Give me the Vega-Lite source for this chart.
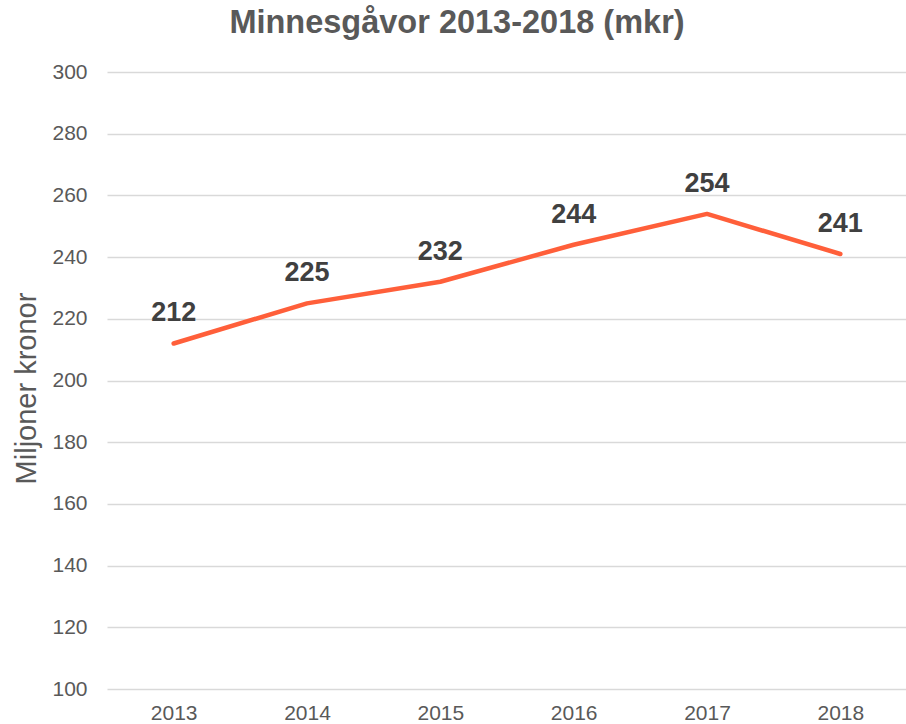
{
  "$schema": "https://vega.github.io/schema/vega-lite/v6.json",
  "width": 800,
  "height": 617,
  "autosize": {"type": "none"},
  "padding": {"left": 107, "top": 72, "right": 0, "bottom": 35},
  "background": "white",
  "title": {
    "text": "Minnesgåvor 2013-2018 (mkr)",
    "font": "Liberation Sans",
    "fontSize": 32.5,
    "fontWeight": "bold",
    "color": "#595959",
    "anchor": "middle",
    "frame": "group",
    "dx": -50,
    "baseline": "alphabetic",
    "offset": -4
  },
  "data": {
    "values": [
      {"year": "2013", "value": 212},
      {"year": "2014", "value": 225},
      {"year": "2015", "value": 232},
      {"year": "2016", "value": 244},
      {"year": "2017", "value": 254},
      {"year": "2018", "value": 241}
    ]
  },
  "config": {
    "view": {"stroke": null},
    "axis": {"labelFont": "Liberation Sans", "titleFont": "Liberation Sans"}
  },
  "encoding": {
    "x": {
      "field": "year",
      "type": "ordinal",
      "scale": {"type": "point", "padding": 0.5},
      "axis": {
        "title": null,
        "labelAngle": 0,
        "labelFontSize": 21,
        "labelColor": "#595959",
        "labelPadding": 13,
        "ticks": false,
        "domain": false,
        "grid": false
      }
    },
    "y": {
      "field": "value",
      "type": "quantitative",
      "scale": {"domain": [100, 300], "nice": false, "zero": false},
      "axis": {
        "title": "Miljoner kronor",
        "titleFontSize": 29,
        "titleFontWeight": "normal",
        "titleColor": "#595959",
        "titlePadding": 10,
        "titleY": 316,
        "values": [100, 120, 140, 160, 180, 200, 220, 240, 260, 280, 300],
        "labelFontSize": 21,
        "labelColor": "#595959",
        "labelPadding": 20,
        "ticks": false,
        "domain": false,
        "grid": true,
        "gridColor": "#d9d9d9",
        "gridWidth": 1.5
      }
    }
  },
  "layer": [
    {
      "mark": {"type": "line", "color": "#ff5f3a", "strokeWidth": 4.5, "strokeCap": "round", "strokeJoin": "round"}
    },
    {
      "mark": {"type": "text", "font": "Liberation Sans", "fontSize": 27, "fontWeight": "bold", "color": "#404040", "baseline": "alphabetic", "dy": -22},
      "encoding": {"text": {"field": "value", "type": "quantitative"}}
    }
  ]
}
